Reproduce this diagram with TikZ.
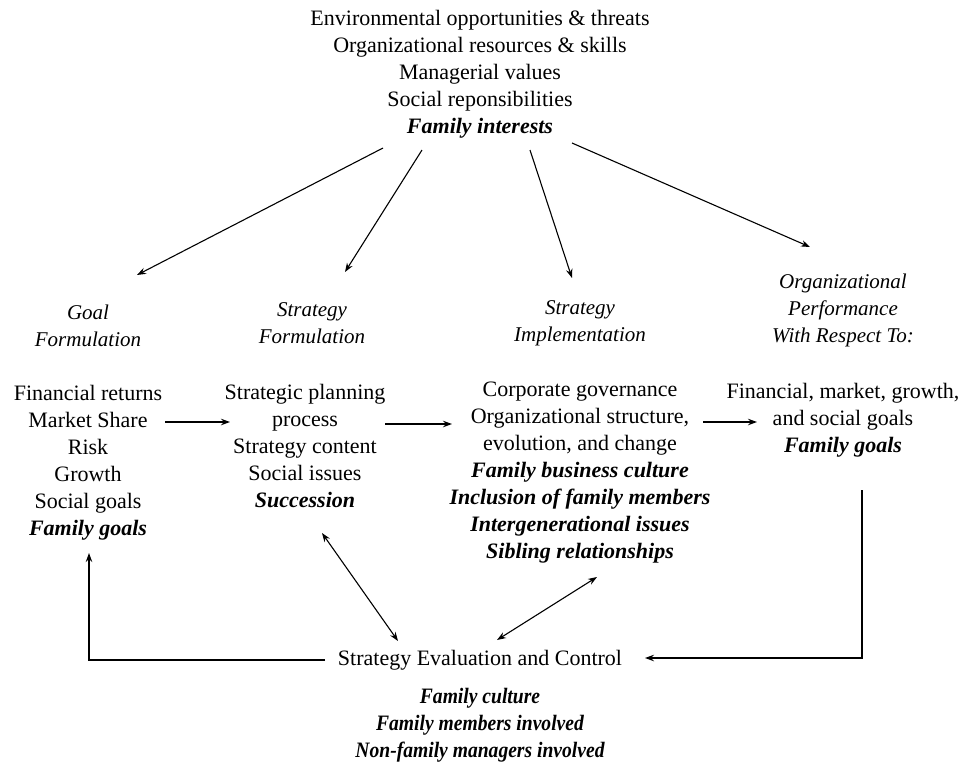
\documentclass[tikz,border=0pt]{standalone}
\usepackage{fontspec}
\setmainfont{Liberation Serif}
\usetikzlibrary{arrows.meta}
\begin{document}
\begin{tikzpicture}[x=1pt,y=-1pt,
  txt/.style={align=center,inner sep=0pt,font=\fontsize{22}{27}\selectfont},
  head/.style={txt,font=\fontsize{21}{27}\selectfont\itshape},
  bot/.style={txt,font=\fontsize{22}{27}\selectfont\bfseries\itshape,xscale=0.89,transform shape},
  arr/.style={line width=1.1pt,-{Stealth[length=9pt,width=6.5pt]}},
  darr/.style={line width=1.1pt,{Stealth[length=9pt,width=6.5pt]}-{Stealth[length=9pt,width=6.5pt]}},
  ln/.style={line width=1.1pt}]
\useasboundingbox[fill=white] (0,0) rectangle (959,766);

\node[txt] (top) at (480,74) {Environmental opportunities \& threats\\Organizational resources \& skills\\Managerial values\\Social reponsibilities\\\textbf{\textit{Family interests}}};

\node[head] (hgoal) at (88,326) {Goal\\Formulation};
\node[head] (hsf) at (312,323) {Strategy\\Formulation};
\node[head] (hsi) at (580,323) {Strategy\\Implementation};
\node[head] (hop) at (843,310) {Organizational\\Performance\\With Respect To:};

\node[txt] (goal) at (88,463) {Financial returns\\Market Share\\Risk\\Growth\\Social goals\\\textbf{\textit{Family goals}}};
\node[txt] (sf) at (305,446) {Strategic planning\\process\\Strategy content\\Social issues\\\textbf{\textit{Succession}}};
\node[txt] (si) at (580,473) {Corporate governance\\Organizational structure,\\evolution, and change\\\textbf{\textit{Family business culture}}\\\textbf{\textit{Inclusion of family members}}\\\textbf{\textit{Intergenerational issues}}\\\textbf{\textit{Sibling relationships}}};
\node[txt] (op) at (843,420) {Financial, market, growth,\\and social goals\\\textbf{\textit{Family goals}}};

\node[txt] (eval) at (480,660) {Strategy Evaluation and Control};
\node[bot] (fam) at (480,725) {Family culture\\Family members involved\\Non-family managers involved};

% top arrows
\coordinate (t1) at (383,148); \coordinate (e1) at (137,275);
\coordinate (t2) at (422,150); \coordinate (e2) at (345,272);
\coordinate (t3) at (530,150); \coordinate (e3) at (572,278);
\coordinate (t4) at (572,143); \coordinate (e4) at (810,247);
\draw[arr] (t1) -- (e1);
\draw[arr] (t2) -- (e2);
\draw[arr] (t3) -- (e3);
\draw[arr] (t4) -- (e4);

% horizontal arrows
\coordinate (h1s) at (165,422); \coordinate (h1e) at (230,422);
\coordinate (h2s) at (385,424); \coordinate (h2e) at (452,424);
\coordinate (h3s) at (703,422); \coordinate (h3e) at (757,422);
\draw[arr] (h1s) -- (h1e);
\draw[arr] (h2s) -- (h2e);
\draw[arr] (h3s) -- (h3e);

% double arrows
\coordinate (d1a) at (322,533); \coordinate (d1b) at (398,641);
\coordinate (d2a) at (597,577); \coordinate (d2b) at (497,640);
\draw[darr] (d1a) -- (d1b);
\draw[darr] (d2a) -- (d2b);

% feedback loops
\coordinate (l1) at (325,660); \coordinate (l2) at (89,660); \coordinate (l3) at (89,553);
\draw[arr] (l1) -- (l2) -- (l3);
\coordinate (r1) at (862,490); \coordinate (r2) at (862,658); \coordinate (r3) at (645,658);
\draw[arr] (r1) -- (r2) -- (r3);
\end{tikzpicture}
\end{document}
